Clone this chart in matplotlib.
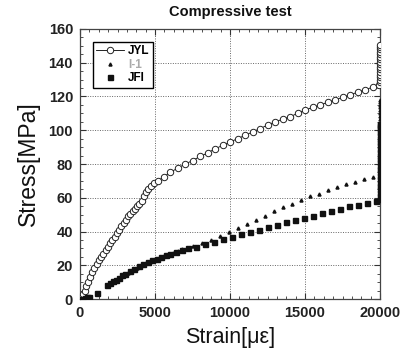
import matplotlib
matplotlib.use("Agg")
import matplotlib.pyplot as plt
from matplotlib.ticker import MultipleLocator

plt.rcParams['font.family'] = ['Liberation Sans', 'DejaVu Sans']

title = "Compressive test"
xlabel = "Strain[με]"
ylabel = "Stress[MPa]"
labels = ["JYL", "I-1", "JFI"]

jyl_strain = [0, 100, 200, 300, 400, 500, 650, 800, 950, 1100, 1250, 1400, 1550,
              1700, 1850, 2000, 2150, 2300, 2450, 2600, 2750, 2900, 3050, 3200,
              3350, 3500, 3650, 3800, 3950, 4100, 4250, 4400, 4550, 4700, 4900,
              5200, 5600, 6000, 6500, 7000, 7500, 8000, 8500, 9000, 9500, 10000,
              10500, 11000, 11500, 12000, 12500, 13000, 13500, 14000, 14500,
              15000, 15500, 16000, 16500, 17000, 17500, 18000, 18500, 19000,
              19500, 19900, 20000, 20000, 20000, 20000, 20000, 20000, 20000,
              20000, 20000, 20000, 20000, 20000, 20000, 20000, 20000, 20000]
jyl_stress = [0, 1, 3, 5, 7.5, 10, 13, 16, 18.5, 21, 23, 25, 27,
              29, 31, 33, 35, 37, 39, 41, 43, 45, 47, 49,
              50.5, 52, 53.5, 55, 56.5, 58, 61, 63.5, 65.5, 67, 68.5,
              70, 72.5, 75, 77.5, 80, 82, 84.5, 86.5, 89, 91, 93,
              95, 97, 99, 101, 103, 105, 106.5, 108, 110,
              112, 113.5, 115, 116.5, 118, 119.5, 121, 122.5, 124,
              125.5, 127, 128.5, 130, 131.5, 133, 134.5, 136, 137.5,
              139, 140.5, 142, 143.5, 145, 146.5, 148, 149.5, 150.5]

i1_strain = [2000, 2300, 2600, 2900, 3200, 3500, 3800, 4100, 4400, 4700, 5000,
             5300, 5600, 5900, 6200, 6500, 6800, 7100, 7500, 8100, 8700, 9300,
             9900, 10500, 11100, 11700, 12300, 12900, 13500, 14100, 14700,
             15300, 15900, 16500, 17100, 17700, 18300, 18900, 19500, 20000,
             20000, 20000, 20000, 20000, 20000, 20000, 20000, 20000, 20000,
             20000, 20000, 20000, 20000, 20000, 20000, 20000, 20000, 20000,
             20000, 20000, 20000, 20000, 20000]
i1_stress = [9.5, 11, 12.5, 14, 15.5, 17, 18.5, 20, 21.5, 22.5, 23.5,
             24.5, 25.5, 26.5, 27.5, 28.5, 29.5, 30.5, 31.5, 33, 35, 37.5,
             40, 42, 44.5, 47, 49.5, 52, 54.5, 56.5, 58.5,
             61, 62.5, 64.5, 66.5, 68, 69.5, 71, 72.5, 74.5,
             76.5, 78.5, 80.5, 82.5, 84.5, 86.5, 88.5, 90.5, 92.5,
             94.5, 96.5, 98.5, 100.5, 102.5, 104.5, 106.5, 108.5, 110.5,
             112, 113.5, 115, 116.5, 118]

jfi_strain = [0, 150, 300, 450, 600, 1130, 1800, 2000, 2200, 2400, 2600, 2800,
              3000, 3300, 3600, 3900, 4200, 4500, 4800, 5100, 5400, 5700,
              6000, 6400, 6800, 7200, 7700, 8300, 8900, 9500, 10100, 10700,
              11300, 11900, 12500, 13100, 13700, 14300, 14900, 15500, 16100,
              16700, 17300, 17900, 18500, 19100, 19700, 20000, 20000, 20000,
              20000, 20000, 20000, 20000, 20000, 20000, 20000, 20000, 20000,
              20000, 20000, 20000, 20000, 20000, 20000, 20000, 20000, 20000,
              20000, 20000, 20000, 20000]
jfi_stress = [0, 0.3, 0.6, 1, 1.5, 3.6, 8.3, 9.5, 10.5, 11.5, 12.5, 14,
              15, 16.5, 18, 19.5, 21, 22, 23, 24, 25, 26,
              27, 28, 29, 30, 31, 32.5, 34, 35.5, 37, 38.5,
              40, 41, 42.5, 44, 45.5, 47, 48, 49.5, 51,
              52, 53.5, 55, 56, 57, 58, 59, 61, 63,
              65, 67, 69, 71, 73, 75, 77, 79, 81,
              83, 85, 87, 89, 91, 93, 95, 97, 99,
              100.5, 102, 103, 104]

fig = plt.figure(figsize=(4.0, 3.49), dpi=100)
ax = fig.add_axes([0.2, 0.143, 0.75, 0.774])

ax.plot(jyl_strain, jyl_stress, '-o', color='black', lw=0.6, ms=4.6,
        mfc='white', mec='#222222', mew=0.7, label=labels[0], zorder=3)
ax.plot(i1_strain, i1_stress, linestyle='none', marker='^', ms=2.2,
        color='#111111', label=labels[1], zorder=3)
ax.plot(jfi_strain, jfi_stress, linestyle='none', marker='s', ms=3.6,
        color='#111111', label=labels[2], zorder=3)

ax.set_xlim(0, 20000)
ax.set_ylim(0, 160)
ax.xaxis.set_major_locator(MultipleLocator(5000))
ax.xaxis.set_minor_locator(MultipleLocator(625))
ax.yaxis.set_major_locator(MultipleLocator(20))
ax.yaxis.set_minor_locator(MultipleLocator(5))
ax.tick_params(which='both', direction='in', top=True, right=True,
               colors='#333333', labelcolor='#222222')
ax.tick_params(which='major', length=4, width=0.8, labelsize=10.5, pad=5)
ax.tick_params(which='minor', length=2, width=0.6)
for lab in ax.get_xticklabels() + ax.get_yticklabels():
    lab.set_fontweight('bold')
ax.grid(True, which='major', linestyle=(0, (1, 1.5)), color='#666666', lw=0.7)
for s in ax.spines.values():
    s.set_color('#444444')
    s.set_linewidth(0.9)

ax.set_title(title, fontsize=10.5, fontweight='bold', color='#111111', pad=9)
ax.set_xlabel(xlabel, fontsize=15.5, color='#111111', labelpad=5)
ax.set_ylabel(ylabel, fontsize=16.5, color='#111111', labelpad=6)

leg = ax.legend(loc='upper left', bbox_to_anchor=(0.043, 0.952), fancybox=False,
                edgecolor='black', framealpha=1, handlelength=2.3,
                handletextpad=0.4, borderpad=0.3, labelspacing=0.12,
                borderaxespad=0, prop={'weight': 'bold', 'size': 8.5})
leg.get_frame().set_linewidth(1.0)
texts = leg.get_texts()
texts[1].set_color('#aaaaaa')

fig.savefig("out.png", dpi=100)
